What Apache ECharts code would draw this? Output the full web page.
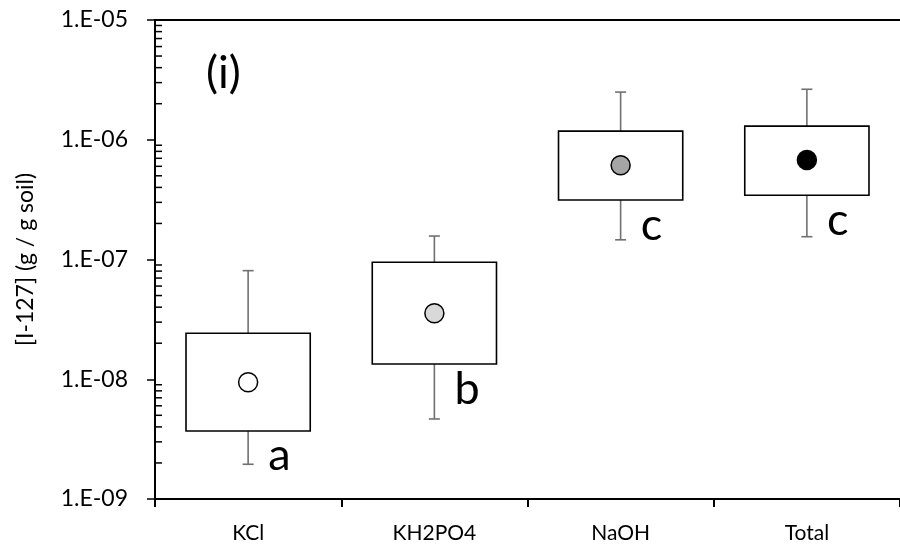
<!DOCTYPE html>
<html><head><meta charset="utf-8">
<script src="https://cdn.jsdelivr.net/npm/echarts@6/dist/echarts.min.js"></script>
<style>html,body{margin:0;padding:0;background:#fff;}#c{width:900px;height:548px;}</style>
</head><body><div id="c"></div>
<script>
const categories = ['KCl', 'KH2PO4', 'NaOH', 'Total'];
const whiskerLow = [1.95e-9, 4.66e-9, 1.46e-7, 1.55e-7];
const boxLow     = [3.70e-9, 1.34e-8, 3.14e-7, 3.44e-7];
const meanValue  = [9.44e-9, 3.56e-8, 6.12e-7, 6.78e-7];
const boxHigh    = [2.42e-8, 9.48e-8, 1.18e-6, 1.30e-6];
const whiskerHigh= [8.07e-8, 1.57e-7, 2.50e-6, 2.64e-6];
const letters    = ['a', 'b', 'c', 'c'];
const dotColors  = ['#ffffff', '#d9d9d9', '#a5a5a5', '#000000'];
const yTickLabels = ['1.E-09', '1.E-08', '1.E-07', '1.E-06', '1.E-05'];
const panelLabel = '(i)';
const yAxisTitle = '[I-127] (g / g soil)';

const FONT = 'Lato';
const minorTicks = [];
for (let e = -9; e < -5; e++) for (let m = 2; m <= 9; m++) minorTicks.push([0, m * Math.pow(10, e)]);

const chart = echarts.init(document.getElementById('c'), null, {renderer: 'canvas'});
const boxData = categories.map((c, i) => [i, whiskerLow[i], boxLow[i], meanValue[i], boxHigh[i], whiskerHigh[i]]);

chart.setOption({
  animation: false,
  backgroundColor: '#fff',
  textStyle: {fontFamily: FONT},
  grid: {left: 155, top: 20, width: 749, height: 479, containLabel: false},
  xAxis: [{
    type: 'category', data: categories, boundaryGap: true, position: 'bottom',
    axisLine: {lineStyle: {color: '#000', width: 2}},
    axisTick: {show: true, inside: false, length: 8, lineStyle: {color: '#000', width: 2}},
    axisLabel: {color: '#000', fontSize: 21, fontFamily: FONT, margin: 24},
    splitLine: {show: false}
  }, {
    type: 'category', data: categories, position: 'top',
    axisLine: {show: true, lineStyle: {color: '#000', width: 2}},
    axisTick: {show: false}, axisLabel: {show: false}, splitLine: {show: false}
  }],
  yAxis: {
    type: 'log', logBase: 10, min: 1e-9, max: 1e-5,
    name: yAxisTitle, nameLocation: 'middle', nameGap: 118, nameRotate: 90,
    nameTextStyle: {color: '#000', fontSize: 23, fontFamily: FONT},
    axisLine: {show: true, lineStyle: {color: '#000', width: 2}},
    axisTick: {show: true, inside: false, length: 8, lineStyle: {color: '#000', width: 1.5}},
    axisLabel: {color: '#000', fontSize: 23, fontFamily: FONT, margin: 27,
      formatter: v => yTickLabels[Math.round(Math.log10(v)) + 9]},
    splitLine: {show: false}
  },
  graphic: [{
    type: 'text', left: 206, top: 51,
    style: {text: panelLabel, fontSize: 45, fontFamily: FONT, fill: '#000'}
  }],
  series: [{
    type: 'custom',
    coordinateSystem: 'cartesian2d',
    data: minorTicks,
    silent: true,
    renderItem: (params, api) => {
      const p = api.coord([0, api.value(1)]);
      const x0 = params.coordSys.x;
      return {type: 'line', shape: {x1: x0, y1: p[1], x2: x0 + 7, y2: p[1]},
        style: {stroke: '#000', lineWidth: 1.5}};
    }
  }, {
    type: 'custom',
    coordinateSystem: 'cartesian2d',
    data: boxData,
    encode: {x: 0, y: [1, 2, 3, 4, 5]},
    renderItem: (params, api) => {
      const i = api.value(0);
      const wl = api.coord([i, api.value(1)]);
      const bl = api.coord([i, api.value(2)]);
      const mv = api.coord([i, api.value(3)]);
      const bh = api.coord([i, api.value(4)]);
      const wh = api.coord([i, api.value(5)]);
      const bw = api.size([1, 0])[0] * 0.667;
      const cx = wl[0];
      const cap = 5.5;
      const wStyle = {stroke: '#707070', lineWidth: 1.6};
      const idx = params.dataIndex;
      return {type: 'group', children: [
        {type: 'line', shape: {x1: cx, y1: bh[1], x2: cx, y2: wh[1]}, style: wStyle},
        {type: 'line', shape: {x1: cx - cap, y1: wh[1], x2: cx + cap, y2: wh[1]}, style: wStyle},
        {type: 'line', shape: {x1: cx, y1: bl[1], x2: cx, y2: wl[1]}, style: wStyle},
        {type: 'line', shape: {x1: cx - cap, y1: wl[1], x2: cx + cap, y2: wl[1]}, style: wStyle},
        {type: 'rect', shape: {x: cx - bw / 2, y: bh[1], width: bw, height: bl[1] - bh[1]},
          style: {fill: '#fff', stroke: '#000', lineWidth: 1.6}},
        {type: 'circle', shape: {cx: cx, cy: mv[1], r: 9.5},
          style: {fill: dotColors[idx], stroke: '#000', lineWidth: 1.5}},
        {type: 'text', x: cx + 20, y: bl[1] + 39 - 14,
          style: {text: letters[idx], fontSize: 45, fontFamily: FONT, fill: '#000',
            textAlign: 'left', textVerticalAlign: 'middle'}}
      ]};
    }
  }]
});
</script></body></html>
